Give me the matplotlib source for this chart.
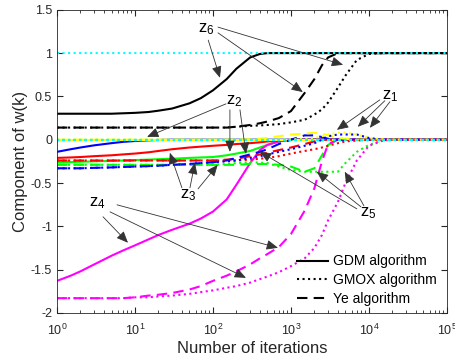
import matplotlib
matplotlib.use('Agg')
import matplotlib.pyplot as plt
from matplotlib.lines import Line2D

plt.rcParams['font.family'] = ['Liberation Sans', 'DejaVu Sans']
plt.rcParams['mathtext.fontset'] = 'custom'
plt.rcParams['mathtext.rm'] = 'Liberation Sans'
plt.rcParams['mathtext.default'] = 'regular'
plt.rcParams['axes.unicode_minus'] = False

iters = [1, 1.5, 2, 3, 5, 7, 10, 15, 20, 30, 50, 70, 100, 150, 200, 300, 400,
         500, 700, 1000, 1500, 2000, 2500, 3000, 4000, 5000, 7000, 10000,
         15000, 20000, 100000]

# GDM algorithm (solid), components z1..z6
gdm_z1 = [0.0] * 31
gdm_z2 = [-0.14, -0.11, -0.09, -0.065, -0.04, -0.025, -0.015, -0.007, -0.003,
          0.0] + [0.0] * 21
gdm_z3 = [-0.21, -0.205, -0.2, -0.19, -0.18, -0.17, -0.16, -0.145, -0.13, -0.11,
          -0.09, -0.08, -0.07, -0.06, -0.05, -0.04, -0.03, -0.02, -0.01,
          0.0] + [0.0] * 11
gdm_z4 = [-1.63, -1.57, -1.52, -1.44, -1.34, -1.28, -1.22, -1.15, -1.1, -1.04,
          -0.97, -0.91, -0.83, -0.69, -0.52, -0.27, -0.12, -0.06, -0.02,
          0.0] + [0.0] * 11
gdm_z5 = [-0.26, -0.258, -0.255, -0.25, -0.245, -0.24, -0.235, -0.23, -0.225,
          -0.22, -0.21, -0.205, -0.2, -0.18, -0.16, -0.13, -0.09, -0.06, -0.02,
          0.0] + [0.0] * 11
gdm_z6 = [0.3, 0.3, 0.3, 0.3, 0.3, 0.305, 0.31, 0.32, 0.335, 0.36, 0.42, 0.48,
          0.57, 0.7, 0.82, 0.95, 0.99, 1.0, 1.0] + [1.0] * 12

# GMOX algorithm (dotted)
gmox_z1 = [0.0] * 19 + [0.005, 0.01, 0.02, 0.04, 0.06, 0.08, 0.08, 0.06, 0.02,
                        0.005, 0.0, 0.0]
gmox_z2 = [-0.33, -0.33, -0.33, -0.325, -0.32, -0.315, -0.31, -0.305, -0.3,
           -0.29, -0.28, -0.27, -0.26, -0.25, -0.24, -0.21, -0.19, -0.17, -0.14,
           -0.11, -0.07, -0.04, 0.0, 0.04, 0.06, 0.06, 0.06, 0.02, 0.0, 0.0, 0.0]
gmox_z3 = [-0.24] * 15 + [-0.23, -0.22, -0.21, -0.19, -0.16, -0.13, -0.11, -0.09,
                          -0.07, -0.04, -0.02, -0.01, 0.0, 0.0, 0.0, 0.0]
gmox_z4 = [-1.83] * 6 + [-1.82, -1.82, -1.81, -1.8, -1.78, -1.76, -1.74, -1.71,
                         -1.69, -1.65, -1.61, -1.58, -1.53, -1.46, -1.37, -1.25,
                         -1.1, -0.93, -0.72, -0.5, -0.24, -0.07, -0.01, 0.0, 0.0]
gmox_z5 = [-0.29] * 13 + [-0.28, -0.27, -0.26, -0.265, -0.27, -0.31, -0.35, -0.37,
                          -0.37, -0.37, -0.37, -0.37, -0.27, -0.14, -0.06, -0.01,
                          0.0, 0.0]
gmox_z6 = [0.14] * 14 + [0.15, 0.16, 0.165, 0.17, 0.18, 0.2, 0.23, 0.29, 0.35,
                         0.43, 0.6, 0.74, 0.92, 0.99, 1.0, 1.0, 1.0]

# Ye algorithm (dashed)
ye_z1 = [0.0] * 15 + [0.005, 0.012, 0.02, 0.04, 0.06, 0.07, 0.08, 0.07, 0.05,
                      0.02, 0.01, 0.0, 0.0, 0.0, 0.0, 0.0]
ye_z2 = [-0.33, -0.33, -0.33, -0.325, -0.32, -0.315, -0.31, -0.305, -0.3, -0.29,
         -0.28, -0.27, -0.26, -0.24, -0.21, -0.17, -0.14, -0.11, -0.05, 0.0,
         0.05, 0.05, 0.03, 0.01, 0.0] + [0.0] * 6
ye_z3 = [-0.24] * 13 + [-0.23, -0.22, -0.19, -0.17, -0.15, -0.12, -0.09, -0.05,
                        -0.02, -0.005, 0.0] + [0.0] * 7
ye_z4 = [-1.83] * 6 + [-1.82, -1.8, -1.79, -1.77, -1.73, -1.69, -1.63, -1.57,
                       -1.52, -1.44, -1.37, -1.32, -1.24, -1.09, -0.82, -0.56,
                       -0.25, -0.05, 0.0] + [0.0] * 6
ye_z5 = [-0.29] * 13 + [-0.29, -0.29, -0.28, -0.28, -0.28, -0.29, -0.31, -0.37,
                        -0.33, -0.18, -0.06, 0.0] + [0.0] * 6
ye_z6 = [0.14] * 14 + [0.15, 0.17, 0.19, 0.21, 0.25, 0.33, 0.54, 0.7, 0.86, 0.95,
                       1.0] + [1.0] * 6

# true weights (cyan dotted)
true_w = [0.0, 0.0, 0.0, 0.0, 0.0, 1.0]

comp_colors = ['#FFFF00', '#0000FF', '#FF0000', '#FF00FF', '#00FF00', '#000000']

# annotation labels: (text, label pos, [(arrow start, arrow tip), ...])
notes = [
    ('z$_6$', (81, 1.28), [((87, 1.15), (123, 0.715)),
                           ((116, 1.234), (1420, 0.55)),
                           ((116, 1.30), (4660, 0.865))]),
    ('z$_2$', (186, 0.449), [((147, 0.414), (14.3, 0.033)),
                             ((165, 0.345), (165, -0.14)),
                             ((222, 0.345), (265, -0.163))]),
    ('z$_1$', (18600, 0.507), [((13800, 0.46), (3890, 0.114)),
                               ((16000, 0.45), (7200, 0.149)),
                               ((18600, 0.438), (10300, 0.137))]),
    ('z$_3$', (47.8, -0.636), [((40, -0.555), (28, -0.151)),
                               ((50.7, -0.555), (58.7, -0.267)),
                               ((64.4, -0.567), (115, -0.29))]),
    ('z$_4$', (3.26, -0.729), [((3.89, -0.89), (8.13, -1.19)),
                               ((5.88, -0.752), (682, -1.248)),
                               ((4.78, -0.833), (265, -1.595))]),
    ('z$_5$', (9700, -0.844), [((7000, -0.798), (400, -0.14)),
                               ((7900, -0.775), (2150, -0.37)),
                               ((8630, -0.763), (4900, -0.37))]),
]

gdm = [gdm_z1, gdm_z2, gdm_z3, gdm_z4, gdm_z5, gdm_z6]
gmox = [gmox_z1, gmox_z2, gmox_z3, gmox_z4, gmox_z5, gmox_z6]
ye = [ye_z1, ye_z2, ye_z3, ye_z4, ye_z5, ye_z6]

fig = plt.figure(figsize=(4.56, 3.63), dpi=100)
ax = fig.add_axes([0.125, 0.138, 0.855, 0.835])

lw = 1.5
# draw z6 first so the yellow z1 sits on top along zero
for i in reversed(range(6)):
    ax.semilogx(iters, gdm[i], color=comp_colors[i], ls='-', lw=lw)
for i in reversed(range(6)):
    ax.semilogx(iters, ye[i], color=comp_colors[i], ls='--', dashes=(5, 3), lw=lw)
for i in reversed(range(6)):
    ax.semilogx(iters, gmox[i], color=comp_colors[i], ls=':', lw=lw)
for t in true_w:
    ax.semilogx([iters[0], iters[-1]], [t, t], color='#00FFFF', ls=':', lw=lw)

# labels with arrows
for txt, pos, arrows in notes:
    ax.text(pos[0], pos[1], txt, fontsize=12, ha='center', va='center')
    for start, tip in arrows:
        ax.annotate('', xy=tip, xytext=start,
                    arrowprops=dict(arrowstyle='-|>,head_length=0.7,head_width=0.3',
                                    color='#333333', lw=0.6, shrinkA=0, shrinkB=0,
                                    mutation_scale=10))

ax.set_xlim(1, 1e5)
ax.set_ylim(-2, 1.5)
ax.set_yticks([-2, -1.5, -1, -0.5, 0, 0.5, 1, 1.5])
ax.set_yticklabels(['-2', '-1.5', '-1', '-0.5', '0', '0.5', '1', '1.5'])
ax.set_xlabel('Number of iterations', fontsize=12, color='#262626', labelpad=2)
ax.set_ylabel('Component of w(k)', fontsize=12, color='#262626', labelpad=2)
ax.tick_params(which='both', direction='in', top=True, right=True,
               labelsize=9, colors='#262626')
ax.tick_params(axis='x', which='major', pad=7)
ax.tick_params(which='major', length=4)
ax.tick_params(which='minor', length=2)
for sp in ax.spines.values():
    sp.set_color('#262626')
    sp.set_linewidth(0.6)

handles = [Line2D([], [], color='k', ls='-', lw=lw),
           Line2D([], [], color='k', ls=':', lw=lw),
           Line2D([], [], color='k', ls='--', dashes=(5, 3), lw=lw)]
ax.legend(handles, ['GDM algorithm', 'GMOX algorithm', 'Ye algorithm'],
          loc='lower right', bbox_to_anchor=(1.0, -0.01), frameon=False,
          fontsize=10, handlelength=2.2, handletextpad=0.4, labelspacing=0.35,
          borderpad=0.2)

plt.savefig('out.png', dpi=100)
plt.close()
